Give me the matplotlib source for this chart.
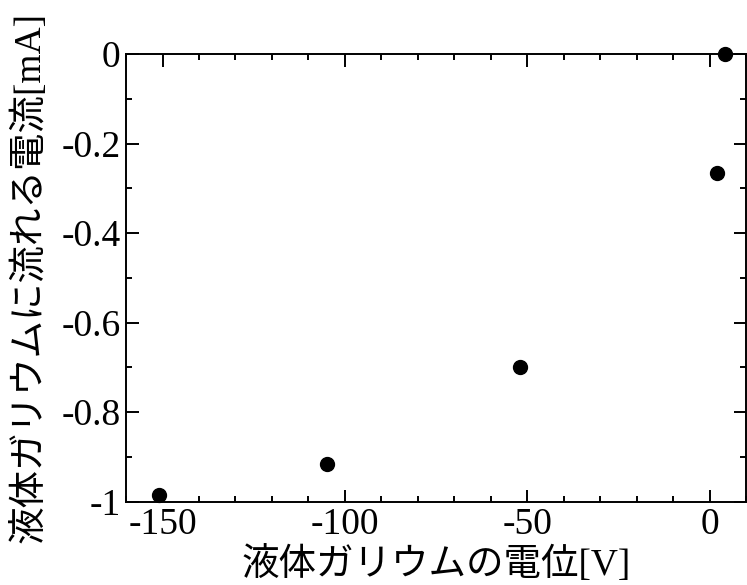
import matplotlib
matplotlib.use('Agg')
import matplotlib.pyplot as plt
from matplotlib.ticker import MultipleLocator

plt.rcParams['font.family'] = ['Liberation Serif', 'Noto Sans CJK JP']
plt.rcParams['axes.unicode_minus'] = False

# data
voltage = [4, 2, -52, -105, -151]          # V
current = [0.0, -0.265, -0.70, -0.916, -0.984]  # mA

x_label = '液体ガリウムの電位[V]'
y_label = '液体ガリウムに流れる電流[mA]'

fig = plt.figure(figsize=(7.47, 5.85), dpi=100)
ax = fig.add_axes([0.1687, 0.1424, 0.8305, 0.7653])

ax.plot(voltage, current, 'o', color='black', markersize=10, clip_on=False)

ax.set_xlim(-160, 10)
ax.set_ylim(-1, 0)
ax.xaxis.set_major_locator(MultipleLocator(50))
ax.xaxis.set_minor_locator(MultipleLocator(10))
ax.yaxis.set_major_locator(MultipleLocator(0.2))
ax.yaxis.set_minor_locator(MultipleLocator(0.1))
ax.yaxis.set_major_formatter(plt.FuncFormatter(lambda v, p: '0' if abs(v) < 1e-9 else ('-1' if abs(v + 1) < 1e-9 else f'{v:.1f}')))

ax.tick_params(which='both', direction='in', top=True, right=True, width=1.4, labelsize=27)
ax.tick_params(which='major', length=9, pad=4)
ax.tick_params(which='minor', length=4.5)
for s in ax.spines.values():
    s.set_linewidth(1.4)

ax.set_xlabel(x_label, fontsize=27, labelpad=3)
ax.set_ylabel(y_label, fontsize=27, labelpad=10)

fig.savefig('out.png', dpi=100)
